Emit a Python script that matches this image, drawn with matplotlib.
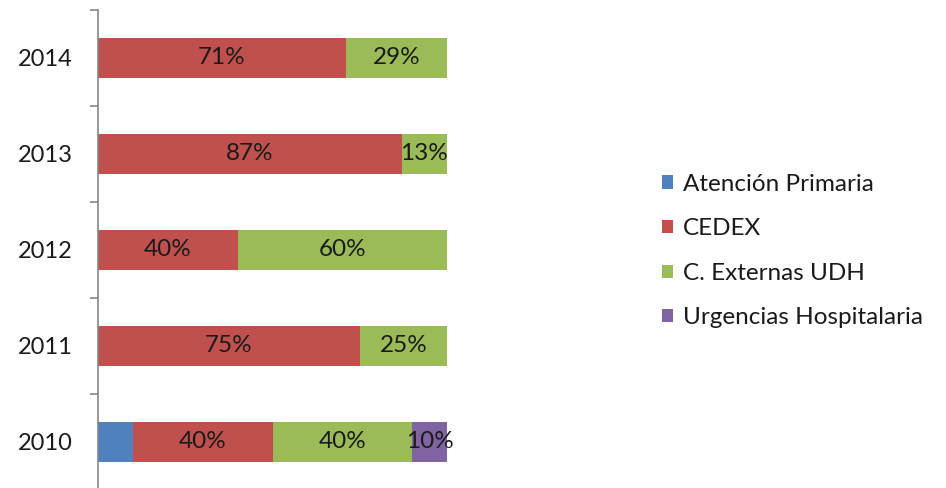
import matplotlib
matplotlib.use("Agg")
import matplotlib.pyplot as plt
import numpy as np

years = ["2010", "2011", "2012", "2013", "2014"]
series_names = ["Atención Primaria", "CEDEX", "C. Externas UDH", "Urgencias Hospitalaria"]
atencion = [10, 0, 0, 0, 0]
cedex = [40, 75, 40, 87, 71]
externas = [40, 25, 60, 13, 29]
urgencias = [10, 0, 0, 0, 0]
show_labels = [False, True, True, True]
colors = ["#4F81BD", "#C0504D", "#9BBB59", "#8064A2"]

plt.rcParams['font.family'] = ['Lato', 'DejaVu Sans']

fig = plt.figure(figsize=(9.46, 4.88), dpi=100)
ax = fig.add_axes([98/946, -2/488, 349/946, 480/488])

y = np.arange(len(years))
left = np.zeros(len(years))
handles = []
for vals, name, col, lab in zip([atencion, cedex, externas, urgencias], series_names, colors, show_labels):
    vals = np.array(vals, dtype=float)
    b = ax.barh(y, vals, left=left, height=0.42, color=col, label=name)
    handles.append(b)
    if lab:
        for yi, v, l in zip(y, vals, left):
            if v > 0:
                ax.text(l + v/2, yi, f"{int(v)}%", ha='center', va='center',
                        fontsize=17.5, color='#1a1a1a')
    left += vals

ax.set_xlim(0, 100)
ax.set_ylim(-0.5, 4.5)
for s in ['top', 'right', 'bottom']:
    ax.spines[s].set_visible(False)
ax.spines['left'].set_color('#868686')
ax.spines['left'].set_linewidth(1.2)
ax.set_xticks([])
ax.set_yticks(y)
ax.set_yticklabels(years, fontsize=17, color='#1a1a1a')
ax.tick_params(axis='y', which='major', length=0, pad=18)
ax.set_yticks(np.arange(-0.5, 5.0, 1.0), minor=True)
ax.tick_params(axis='y', which='minor', length=6, color='#868686', width=1.2)

leg = fig.legend(handles=handles, labels=series_names, loc='center left',
                 bbox_to_anchor=(662/946, 1 - 251/488), frameon=False,
                 fontsize=17.5, handlelength=0.45, handleheight=0.45,
                 handletextpad=0.4, labelspacing=0.97, borderaxespad=0,
                 borderpad=0)
for t in leg.get_texts():
    t.set_color('#1a1a1a')

fig.savefig("out.png", dpi=100)
